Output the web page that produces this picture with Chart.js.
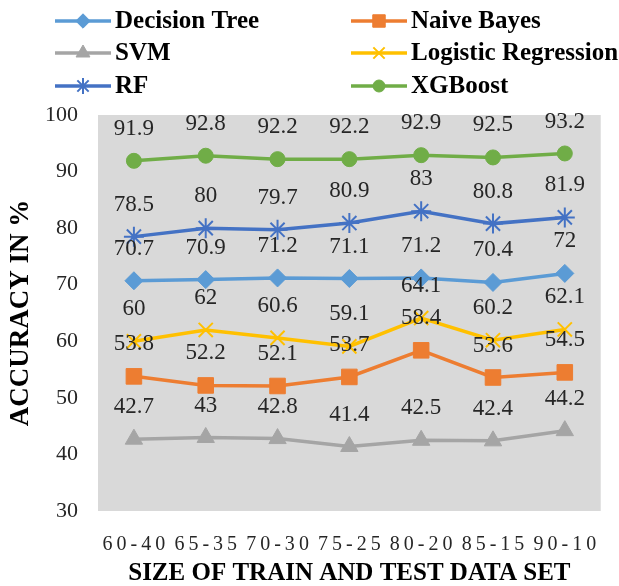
<!DOCTYPE html>
<html>
<head>
<meta charset="utf-8">
<script src="https://cdn.jsdelivr.net/npm/chart.js@4/dist/chart.umd.min.js"></script>
<style>
  html, body { margin: 0; padding: 0; background: #fff; }
  #wrap { width: 619px; height: 586px; }
</style>
</head>
<body>
<div id="wrap"><canvas id="chart"></canvas></div>
<script>
const splits = ['6\u20090\u2009-\u20094\u20090', '6\u20095\u2009-\u20093\u20095', '7\u20090\u2009-\u20093\u20090', '7\u20095\u2009-\u20092\u20095', '8\u20090\u2009-\u20092\u20090', '8\u20095\u2009-\u20091\u20095', '9\u20090\u2009-\u20091\u20090'];
const decisionTree = [70.7, 70.9, 71.2, 71.1, 71.2, 70.4, 72];
const naiveBayes = [53.8, 52.2, 52.1, 53.7, 58.4, 53.6, 54.5];
const svm = [42.7, 43, 42.8, 41.4, 42.5, 42.4, 44.2];
const logisticRegression = [60, 62, 60.6, 59.1, 64.1, 60.2, 62.1];
const rf = [78.5, 80, 79.7, 80.9, 83, 80.8, 81.9];
const xgboost = [91.9, 92.8, 92.2, 92.2, 92.9, 92.5, 93.2];
const yTicks = [30, 40, 50, 60, 70, 80, 90, 100];

const serif = '"Liberation Serif", "Times New Roman", serif';

function series(label, data, color, style, radius) {
    return {
        label, data,
        borderColor: color,
        backgroundColor: color,
        borderWidth: 3.5,
        pointStyle: style,
        pointRadius: radius,
        pointBorderWidth: style === 'star' || style === 'crossRot' ? 2 : 1,
        pointBorderColor: color,
        tension: 0
    };
}

const datasets = [
    series('Decision Tree', decisionTree, '#5B9BD5', 'rectRot', 9),
    series('Naive Bayes', naiveBayes, '#ED7D31', 'rect', 11),
    series('SVM', svm, '#A5A5A5', 'triangle', 10),
    series('Logistic Regression', logisticRegression, '#FFC000', 'crossRot', 10),
    series('RF', rf, '#4472C4', 'star', 10),
    series('XGBoost', xgboost, '#70AD47', 'circle', 7.5)
];

// gray plot area
const plotBg = {
    id: 'plotBg',
    beforeDraw(chart) {
        const { ctx, chartArea: a } = chart;
        ctx.save();
        ctx.fillStyle = '#D9D9D9';
        ctx.fillRect(a.left, a.top, a.right - a.left, a.bottom - a.top);
        ctx.restore();
    }
};

// value labels above each point
const valueLabels = {
    id: 'valueLabels',
    afterDatasetsDraw(chart) {
        const ctx = chart.ctx;
        ctx.save();
        ctx.font = '23px ' + serif;
        ctx.fillStyle = '#262626';
        ctx.textAlign = 'center';
        ctx.textBaseline = 'middle';
        chart.data.datasets.forEach((ds, i) => {
            chart.getDatasetMeta(i).data.forEach((pt, j) => {
                ctx.fillText(String(ds.data[j]), pt.x, pt.y - 32);
            });
        });
        ctx.restore();
    }
};

// legend: line with marker, two columns
const lineLegend = {
    id: 'lineLegend',
    afterDraw(chart) {
        const ctx = chart.ctx;
        const cols = [55, 351];
        const rows = [21, 53, 86];
        ctx.save();
        ctx.font = 'bold 25px ' + serif;
        ctx.textBaseline = 'middle';
        ctx.textAlign = 'left';
        chart.data.datasets.forEach((ds, i) => {
            const x = cols[i % 2];
            const y = rows[Math.floor(i / 2)];
            ctx.strokeStyle = ds.borderColor;
            ctx.fillStyle = ds.backgroundColor;
            ctx.lineWidth = 3.5;
            ctx.beginPath();
            ctx.moveTo(x, y);
            ctx.lineTo(x + 56, y);
            ctx.stroke();
            ctx.lineWidth = ds.pointBorderWidth;
            Chart.helpers.drawPoint(ctx, {
                pointStyle: ds.pointStyle,
                radius: ds.pointRadius * 0.8,
                rotation: 0,
                borderWidth: ds.pointBorderWidth
            }, x + 28, y);
            ctx.fillStyle = '#000';
            ctx.fillText(ds.label, x + 60, y + 1);
        });
        ctx.restore();
    }
};

new Chart(document.getElementById('chart'), {
    type: 'line',
    data: { labels: splits, datasets: datasets },
    plugins: [plotBg, valueLabels, lineLegend],
    options: {
        responsive: true,
        maintainAspectRatio: false,
        animation: false,
        layout: { padding: { top: 115, right: 9, left: 8, bottom: 0 } },
        plugins: {
            legend: { display: false },
            tooltip: { enabled: false }
        },
        scales: {
            x: {
                offset: true,
                grid: { display: false, drawTicks: false },
                border: { display: false },
                ticks: { color: '#262626', font: { family: serif, size: 20 }, padding: 22, maxRotation: 0, autoSkip: false },
                title: { display: true, text: 'SIZE OF TRAIN AND TEST DATA SET', color: '#000', font: { family: serif, size: 25, weight: 'bold', lineHeight: 1 }, padding: { top: -18, bottom: 0 } }
            },
            y: {
                min: 30, max: 100,
                afterBuildTicks(axis) { axis.ticks = yTicks.map(v => ({ value: v })); },
                grid: { display: false, drawTicks: false },
                border: { display: false },
                ticks: { color: '#262626', font: { family: serif, size: 22 }, padding: 20 },
                title: { display: true, text: 'ACCURACY IN %', color: '#000', font: { family: serif, size: 27, weight: 'bold', lineHeight: 1 }, padding: { top: 0, bottom: -10 } }
            }
        }
    }
});
</script>
</body>
</html>
